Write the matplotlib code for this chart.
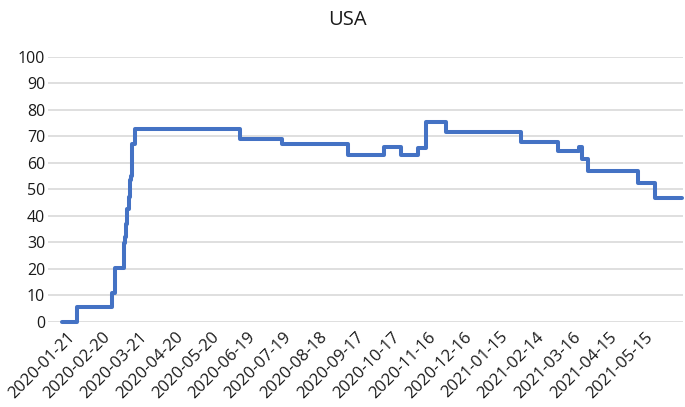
import pandas as pd
import matplotlib
matplotlib.use('Agg')
import matplotlib.pyplot as plt
import matplotlib.dates as mdates
import matplotlib.transforms as mtransforms

# dates where the index changes, and the new value from that day on
change_dates = ['2020-01-21', '2020-02-02', '2020-03-02', '2020-03-05', '2020-03-12',
                '2020-03-13', '2020-03-14', '2020-03-15', '2020-03-16', '2020-03-17',
                '2020-03-18', '2020-03-19', '2020-03-21', '2020-06-16', '2020-07-21',
                '2020-09-14', '2020-10-14', '2020-10-28', '2020-11-11', '2020-11-18',
                '2020-12-04', '2021-02-05', '2021-03-07', '2021-03-25', '2021-03-27',
                '2021-04-01', '2021-05-13', '2021-05-27', '2021-06-18']
values = [0, 5.56, 11.11, 20.37, 29.63,
          32.0, 37.0, 42.59, 47.22, 53.7,
          55.09, 67.13, 72.69, 68.98, 67.13,
          62.96, 66.2, 62.96, 65.74, 75.46,
          71.76, 68.06, 64.35, 66.2, 61.57,
          56.94, 52.31, 46.76, 46.76]

tick_dates = pd.date_range('2020-01-21', '2021-05-15', freq='30D')
yticks = list(range(0, 101, 10))

plt.rcParams['font.family'] = ['Open Sans', 'DejaVu Sans']

fig = plt.figure(figsize=(6.85, 4.07), dpi=100)
ax = fig.add_axes([0.070, 0.209, 0.927, 0.651])

x = pd.to_datetime(change_dates)
ax.plot(x, values, drawstyle='steps-post', color='#4472C4', linewidth=2.9,
        solid_joinstyle='round', solid_capstyle='round', clip_on=False)

ax.set_ylim(0, 100)
ax.set_yticks(yticks)
ax.set_xlim(pd.Timestamp('2020-01-09'), pd.Timestamp('2021-06-19'))
ax.set_xticks(tick_dates)
ax.xaxis.set_major_formatter(mdates.DateFormatter('%Y-%m-%d'))
ax.grid(axis='y', color='#d9d9d9', linewidth=1.2)
ax.set_axisbelow(True)
for s in ax.spines.values():
    s.set_visible(False)
ax.tick_params(axis='both', length=0, colors='#1a1a1a')
ax.tick_params(axis='y', pad=2, labelsize=11.5)
ax.tick_params(axis='x', pad=5, labelsize=12)

shift = mtransforms.ScaledTranslation(4 / 100, 0, fig.dpi_scale_trans)
for lab in ax.get_xticklabels():
    lab.set_rotation(45)
    lab.set_ha('right')
    lab.set_rotation_mode('anchor')
    lab.set_transform(lab.get_transform() + shift)

fig.suptitle('USA', x=0.507, y=0.975, fontsize=14.5, color='#1a1a1a')

fig.savefig('out.png', dpi=100)
